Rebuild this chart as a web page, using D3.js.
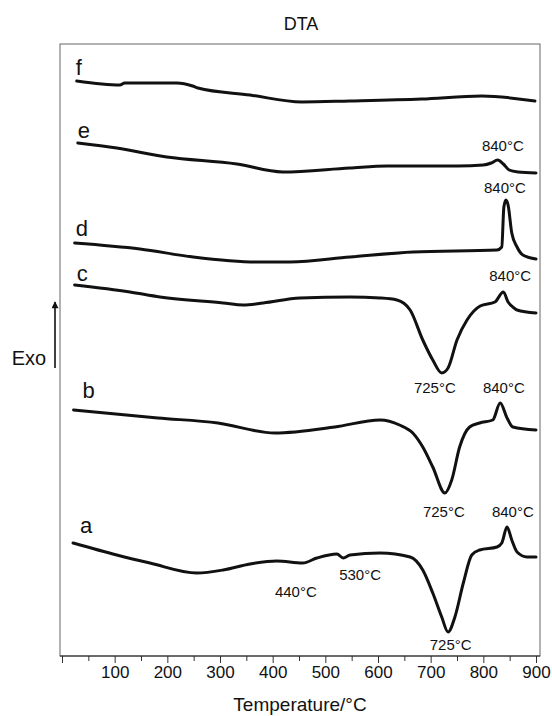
<!DOCTYPE html>
<html>
<head>
<meta charset="utf-8">
<script src="https://cdn.jsdelivr.net/npm/d3@7"></script>
<style>
  body { margin: 0; background: #fff; }
  text { font-family: "Liberation Sans", Arial, sans-serif; fill: #111; }
</style>
</head>
<body>
<div id="chart"></div>
<script>
// DTA curves, temperature (°C) vs signal (arbitrary units, curves stacked)
const tempTicks = [0, 100, 200, 300, 400, 500, 600, 700, 800, 900];
const minorTicks = [50, 150, 250, 350, 450, 550, 650, 750, 850];

const curveNames = ["f", "e", "d", "c", "b", "a"];

const curveF = [[28, 57.5], [110, 57.1], [119, 57.3], [218, 57.3], [248, 57.0], [258, 56.8],
  [357, 56.1], [455, 55.4], [546, 55.5], [683, 55.7], [797, 56.0], [898, 55.5]];

const curveE = [[30, 51.3], [104, 50.8], [199, 49.9], [332, 49.2], [419, 48.4], [546, 48.8],
  [617, 49.0], [752, 49.0], [800, 49.1], [815, 49.3], [827, 49.6], [838, 49.2], [849, 48.6],
  [866, 48.4], [900, 48.3]];

const curveD = [[24, 41.3], [148, 40.7], [249, 39.9], [370, 39.4], [433, 39.4], [547, 39.9],
  [667, 40.4], [826, 40.6], [835, 40.9], [839, 44.9], [843, 45.6], [847, 45.1], [854, 42.3],
  [864, 40.9], [875, 40.1], [900, 39.7]];

const curveC = [[24, 37.1], [129, 36.4], [186, 35.9], [306, 35.3], [344, 35.1], [382, 35.3],
  [452, 35.8], [547, 35.9], [604, 35.8], [636, 35.6], [661, 34.6], [685, 31.6], [704, 29.6],
  [721, 28.3], [733, 28.8], [750, 31.6], [769, 33.6], [794, 35.0], [822, 35.4], [838, 36.4],
  [847, 35.4], [856, 34.9], [864, 34.6], [900, 34.3]];

const curveB = [[22, 24.6], [182, 23.8], [296, 23.3], [404, 22.3], [518, 22.9], [604, 23.6],
  [641, 23.1], [666, 22.3], [685, 20.9], [704, 18.9], [727, 16.3], [740, 17.6], [755, 20.9],
  [774, 22.9], [793, 23.3], [818, 23.6], [832, 25.3], [845, 23.8], [856, 22.9], [900, 22.6]];

const curveA = [[21, 11.3], [104, 10.1], [167, 9.3], [256, 8.3], [306, 8.6], [357, 9.2],
  [408, 9.5], [457, 9.3], [484, 9.8], [522, 10.2], [534, 9.8], [547, 10.1], [604, 10.3],
  [661, 9.9], [685, 8.6], [704, 6.3], [721, 3.9], [733, 2.4], [746, 3.9], [762, 7.3],
  [778, 10.1], [793, 10.6], [826, 10.9], [835, 11.3], [845, 12.9], [854, 11.6], [864, 10.4],
  [883, 9.9], [900, 9.9]];

// peak labels: text, temperature anchor, signal anchor
const peakText = ["840°C", "840°C", "840°C", "725°C", "840°C", "725°C", "840°C", "530°C", "440°C", "725°C"];
const peakT = [837, 841, 851, 708, 839, 725, 856, 566, 444, 738];
const peakV = [51.1, 46.9, 38.1, 26.9, 26.9, 14.5, 14.5, 8.2, 6.5, 1.2];

const curves = [curveF, curveE, curveD, curveC, curveB, curveA];

const W = 552, H = 716;
const frame = { left: 60, right: 540, top: 44, bottom: 656 };

const svg = d3.select("#chart").append("svg")
  .attr("width", W)
  .attr("height", H);

const x = d3.scaleLinear().domain([0, 900]).range([62, 536]);
const y = d3.scaleLinear().domain([0, 61.2]).range([frame.bottom, frame.top]);

// frame
svg.append("rect")
  .attr("x", frame.left)
  .attr("y", frame.top)
  .attr("width", frame.right - frame.left)
  .attr("height", frame.bottom - frame.top)
  .attr("fill", "none")
  .attr("stroke", "#666")
  .attr("stroke-width", 1);

// x axis
const xAxis = svg.append("g")
  .attr("transform", `translate(0,${frame.bottom})`)
  .call(d3.axisBottom(x)
    .tickValues(tempTicks)
    .tickFormat(d => d === 0 ? "" : d)
    .tickSize(7)
    .tickPadding(3));
xAxis.select(".domain").remove();
xAxis.selectAll("line").attr("stroke", "#333");
xAxis.selectAll("text").style("font-size", "17px").attr("fill", "#111");

const xMinor = svg.append("g")
  .attr("transform", `translate(0,${frame.bottom})`)
  .call(d3.axisBottom(x).tickValues(minorTicks).tickFormat("").tickSize(5));
xMinor.select(".domain").remove();
xMinor.selectAll("line").attr("stroke", "#333");

svg.append("line")
  .attr("x1", frame.left).attr("x2", frame.right)
  .attr("y1", frame.bottom).attr("y2", frame.bottom)
  .attr("stroke", "#222").attr("stroke-width", 1.2);

// curves
const line = d3.line()
  .x(d => x(d[0]))
  .y(d => y(d[1]))
  .curve(d3.curveMonotoneX);

svg.selectAll("path.dta")
  .data(curves)
  .enter()
  .append("path")
  .attr("class", "dta")
  .attr("d", line)
  .attr("fill", "none")
  .attr("stroke", "#111")
  .attr("stroke-width", 3)
  .attr("stroke-linejoin", "round")
  .attr("stroke-linecap", "round");

// curve letters, placed above each curve's start
const letterDx = [-1, 0, 1, 2, 9, 7];
const letterDy = [-14, -13, -15, -12, -20, -18];
svg.selectAll("text.letter")
  .data(curves)
  .enter()
  .append("text")
  .attr("class", "letter")
  .attr("x", (d, i) => x(d[0][0]) + letterDx[i])
  .attr("y", (d, i) => y(d[0][1]) + letterDy[i])
  .attr("dominant-baseline", "central")
  .style("font-size", "22px")
  .text((d, i) => curveNames[i]);

// peak labels
svg.selectAll("text.peak")
  .data(peakText)
  .enter()
  .append("text")
  .attr("class", "peak")
  .attr("x", (d, i) => x(peakT[i]))
  .attr("y", (d, i) => y(peakV[i]))
  .attr("text-anchor", "middle")
  .attr("dominant-baseline", "central")
  .style("font-size", "15px")
  .text(d => d);

// title and axis label
svg.append("text")
  .attr("x", 301).attr("y", 24)
  .attr("text-anchor", "middle")
  .attr("dominant-baseline", "central")
  .style("font-size", "18px")
  .text("DTA");

svg.append("text")
  .attr("x", 300).attr("y", 704)
  .attr("text-anchor", "middle")
  .attr("dominant-baseline", "central")
  .style("font-size", "19px")
  .text("Temperature/°C");

// Exo arrow
svg.append("defs").append("marker")
  .attr("id", "arrowhead")
  .attr("viewBox", "0 0 10 10")
  .attr("refX", 9).attr("refY", 5)
  .attr("markerUnits", "userSpaceOnUse")
  .attr("markerWidth", 11).attr("markerHeight", 7)
  .attr("orient", "auto")
  .append("path")
  .attr("d", "M0,0 L10,5 L0,10 Z")
  .attr("fill", "#111");

svg.append("line")
  .attr("x1", 55).attr("x2", 55)
  .attr("y1", 368).attr("y2", 302)
  .attr("stroke", "#111")
  .attr("stroke-width", 1.6)
  .attr("marker-end", "url(#arrowhead)");

svg.append("text")
  .attr("x", 29).attr("y", 358)
  .attr("text-anchor", "middle")
  .attr("dominant-baseline", "central")
  .style("font-size", "20px")
  .text("Exo");
</script>
</body>
</html>
